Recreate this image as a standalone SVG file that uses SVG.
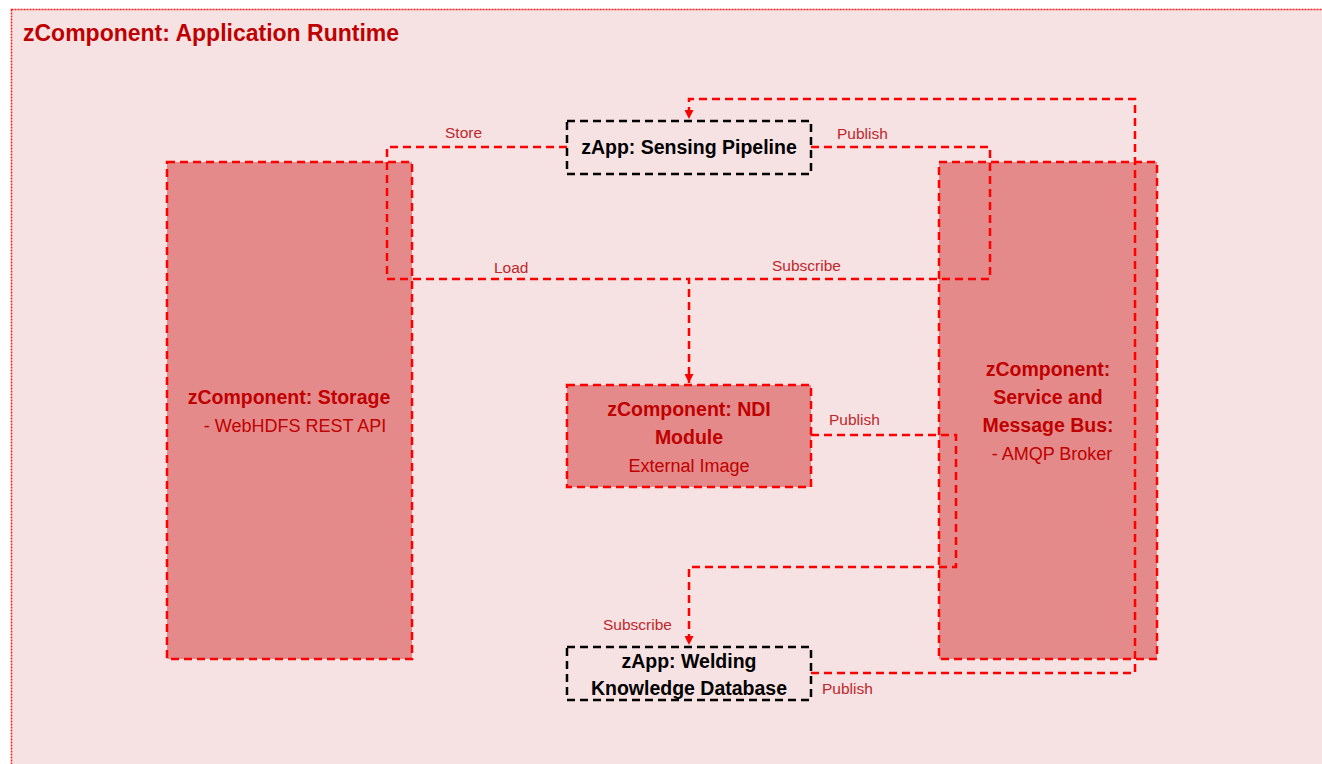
<svg xmlns="http://www.w3.org/2000/svg" width="1322" height="764" viewBox="0 0 1322 764">
  <defs>
    <style>
      .frame { fill: #f7e2e3; stroke: #ff1a1a; stroke-width: 1.5; stroke-dasharray: 2 1; }
      .comp { fill: #e48a8a; stroke: #ff0000; stroke-width: 2.5; stroke-dasharray: 8 5; }
      .app { fill: none; stroke: #000000; stroke-width: 2.5; stroke-dasharray: 8 5; }
      .wire { fill: none; stroke: #ff0000; stroke-width: 2.5; stroke-dasharray: 8 5; }
      .title { font-family: "Liberation Sans", Arial, sans-serif; font-weight: bold; font-size: 23px; fill: #c00000; }
      .bold { font-family: "Liberation Sans", Arial, sans-serif; font-weight: bold; font-size: 19.5px; text-anchor: middle; }
      .norm { font-family: "Liberation Sans", Arial, sans-serif; font-size: 18px; text-anchor: middle; fill: #c00000; }
      .red { fill: #c00000; }
      .black { fill: #000000; }
      .lbl { font-family: "Liberation Sans", Arial, sans-serif; font-size: 15.5px; fill: #c0262b; }
    </style>
    <marker id="arrow" viewBox="0 0 10 10" refX="10" refY="5" markerWidth="9" markerHeight="9" markerUnits="userSpaceOnUse" orient="auto">
      <path d="M0,0 L10,5 L0,10 Z" fill="#ff0000"/>
    </marker>
  </defs>

  <!-- application runtime container -->
  <g id="runtime">
    <rect x="0" y="0" width="1322" height="764" fill="#ffffff"/>
    <rect class="frame" x="11.5" y="9.5" width="1330" height="780"/>
    <text class="title" x="23" y="41">zComponent: Application Runtime</text>
  </g>

  <g id="storage">
    <rect class="comp" x="167" y="162" width="245" height="497"/>
    <text class="bold red" x="289" y="404">zComponent: Storage</text>
    <text class="norm" x="295" y="432">- WebHDFS REST API</text>
  </g>

  <g id="message-bus">
    <rect class="comp" x="939" y="162" width="218" height="497"/>
    <text class="bold red" x="1048" y="376">zComponent:</text>
    <text class="bold red" x="1048" y="404">Service and</text>
    <text class="bold red" x="1048" y="432">Message Bus:</text>
    <text class="norm" x="1052" y="460">- AMQP Broker</text>
  </g>

  <g id="ndi-module">
    <rect class="comp" x="567" y="385" width="244" height="102"/>
    <text class="bold red" x="689" y="416">zComponent: NDI</text>
    <text class="bold red" x="689" y="444">Module</text>
    <text class="norm" x="689" y="472">External Image</text>
  </g>

  <!-- connectors -->
  <g id="connectors">
    <!-- Store / Load -->
    <path class="wire" d="M567,147 H387 V279 H689 V383" marker-end="url(#arrow)"/>
    <!-- Publish / Subscribe from the pipeline via the bus -->
    <path class="wire" d="M811,147 H990 V279 H689"/>
    <!-- Welding publish back to the pipeline -->
    <path class="wire" d="M811,673 H1135 V99 H689 V119" marker-end="url(#arrow)"/>
    <!-- NDI publish, welding subscribe -->
    <path class="wire" d="M811,435 H956 V567 H689 V645" marker-end="url(#arrow)"/>

    <text class="lbl" x="445" y="138">Store</text>
    <text class="lbl" x="837" y="139">Publish</text>
    <text class="lbl" x="494" y="273">Load</text>
    <text class="lbl" x="772" y="271">Subscribe</text>
    <text class="lbl" x="829" y="425">Publish</text>
    <text class="lbl" x="603" y="630">Subscribe</text>
    <text class="lbl" x="822" y="694">Publish</text>
  </g>

  <g id="sensing-pipeline">
    <rect class="app" x="567" y="121" width="244" height="53"/>
    <text class="bold black" x="689" y="154">zApp: Sensing Pipeline</text>
  </g>

  <g id="welding-db">
    <rect class="app" x="567" y="647" width="244" height="53"/>
    <text class="bold black" x="689" y="668">zApp: Welding</text>
    <text class="bold black" x="689" y="695">Knowledge Database</text>
  </g>
</svg>
